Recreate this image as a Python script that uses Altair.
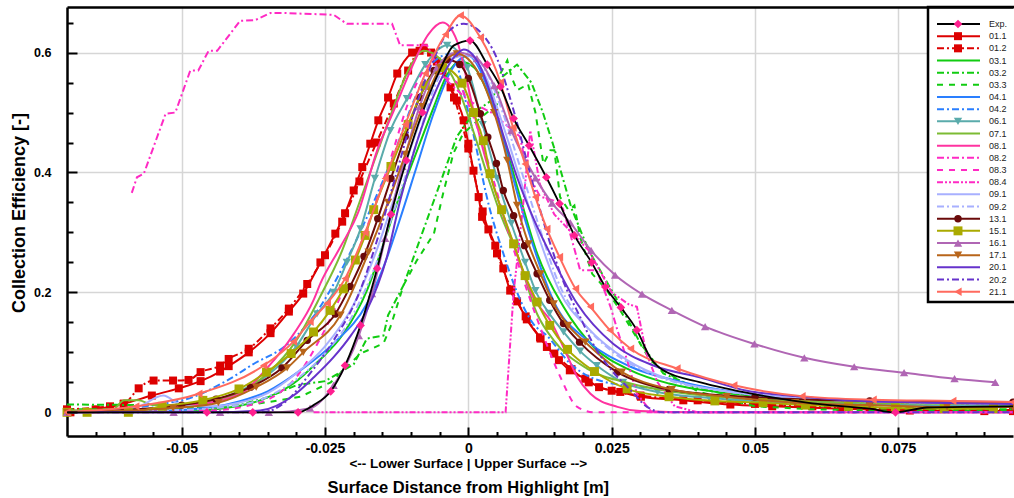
import altair as alt
import pandas as pd

FONT = "Liberation Sans"

# ---------------- series meta ----------------
SERIES = ["Exp.", "01.1", "01.2", "03.1", "03.2", "03.3", "04.1", "04.2", "06.1", "07.1",
          "08.1", "08.2", "08.3", "08.4", "09.1", "09.2", "13.1", "15.1", "16.1", "17.1",
          "20.1", "20.2", "21.1"]
LINE_COLORS = ["#000000", "#dd0000", "#dd0000", "#11cc11", "#11cc11", "#11cc11", "#2a7fff", "#2a7fff",
               "#5aabab", "#7cbb33", "#ff33a0", "#ff2ac4", "#ff2ac4", "#ff2ac4", "#a8b0ff", "#a8b0ff",
               "#6a0a0a", "#aaaa00", "#b066b4", "#b8651a", "#6633cc", "#6633cc", "#ff6a5e"]
SOLID = []
DD = [7, 3, 2, 3]
DASHED = [6, 6]
DDD = [6, 2, 2, 2, 2, 2]
LINE_DASHES = [SOLID, SOLID, DD, SOLID, DD, DASHED, SOLID, DD, SOLID, SOLID, SOLID, DD, DASHED, DDD,
               SOLID, DD, SOLID, SOLID, SOLID, SOLID, SOLID, DD, SOLID]
MARKERS = ["diamond", "square", "square", "", "", "", "", "", "triangle-down", "", "", "", "", "",
           "", "", "circle", "square", "triangle-up", "triangle-down", "", "", "triangle-left"]
MARKER_COLORS = ["#ff1f8f"] + LINE_COLORS[1:]
MARKER_SIZES = [75, 64, 64, 0, 0, 0, 0, 0, 70, 0, 0, 0, 0, 0, 0, 0, 55, 80, 70, 70, 0, 0, 70]
LINEAR_SERIES = ["03.2", "03.3", "08.2", "08.4"]

XMAJ = [-0.05, -0.025, 0, 0.025, 0.05, 0.075]
XMIN = [-0.065, -0.06, -0.055, -0.045, -0.04, -0.035, -0.03, -0.02, -0.015, -0.01, -0.005,
        0.005, 0.01, 0.015, 0.02, 0.03, 0.035, 0.04, 0.045, 0.055, 0.06, 0.065, 0.07, 0.08, 0.085, 0.09]
YMAJ = [0, 0.2, 0.4, 0.6]
YMIN = [0.05, 0.1, 0.15, 0.25, 0.3, 0.35, 0.45, 0.5, 0.55, 0.65]

X_TITLE = "Surface Distance from Highlight [m]"
X_SUBTITLE = "<-- Lower Surface | Upper Surface -->"
Y_TITLE = "Collection Efficiency [-]"

# ---------------- data ----------------
EXP_X = [-0.07, -0.0535, -0.0456, -0.0376, -0.0297, -0.027, -0.024, -0.0215, -0.0188, -0.0159, -0.0135,
         -0.0108, -0.008, -0.005, -0.0025, 0.0003, 0.0033, 0.0056, 0.0079, 0.0106, 0.0136, 0.0159, 0.0185,
         0.0215, 0.0239, 0.0266, 0.0294, 0.0317, 0.034, 0.0405, 0.05, 0.06, 0.07, 0.0745, 0.08, 0.095]
EXP_Y = [0.0, 0.0, 0.0, 0.0, 0.0, 0.012, 0.035, 0.078, 0.145, 0.24, 0.33, 0.42, 0.5, 0.57, 0.612, 0.62,
         0.58, 0.543, 0.49, 0.445, 0.392, 0.348, 0.295, 0.25, 0.209, 0.175, 0.137, 0.092, 0.07, 0.05, 0.03,
         0.015, 0.006, 0.0, 0.008, 0.01]
EXP_MX = [-0.0456, -0.0376, -0.0297, -0.024, -0.0215, -0.0188, -0.0159, -0.0135, -0.0108, -0.008, 0.0003,
          0.0033, 0.0056, 0.0079, 0.0106, 0.0136, 0.0159, 0.0185, 0.0215, 0.0239, 0.0266, 0.0294, 0.0745]
EXP_MY = [0.0, 0.0, 0.0, 0.035, 0.078, 0.145, 0.24, 0.33, 0.42, 0.5, 0.62, 0.58, 0.543, 0.49, 0.445, 0.392,
          0.348, 0.295, 0.25, 0.209, 0.175, 0.137, 0.0]

S011_X = [-0.0694, -0.065, -0.0601, -0.0552, -0.0505, -0.0467, -0.0433, -0.0418, -0.0383, -0.0345, -0.0313,
          -0.0288, -0.0258, -0.0232, -0.0215, -0.02, -0.0185, -0.0171, -0.0157, -0.014, -0.0124, -0.0098,
          -0.0078, -0.0055, -0.0031, -0.002, -0.0008, 0.0, 0.0009, 0.0018, 0.0024, 0.0035, 0.0047, 0.0061,
          0.0073, 0.0085, 0.0102, 0.0126, 0.0137, 0.0158, 0.0177, 0.0204, 0.0228, 0.0265, 0.0301, 0.0375,
          0.0457, 0.053, 0.0649, 0.077, 0.09, 0.095]
S011_Y = [0.0, 0.005, 0.0145, 0.028, 0.04, 0.052, 0.068, 0.077, 0.1, 0.132, 0.168, 0.198, 0.25, 0.298, 0.332,
          0.37, 0.409, 0.448, 0.487, 0.525, 0.565, 0.6, 0.608, 0.585, 0.542, 0.52, 0.487, 0.448, 0.403, 0.359,
          0.326, 0.305, 0.278, 0.24, 0.203, 0.185, 0.155, 0.123, 0.109, 0.087, 0.07, 0.056, 0.042, 0.034,
          0.026, 0.02, 0.013, 0.01, 0.006, 0.003, 0.002, 0.002]

S012_X = [-0.07, -0.0625, -0.0601, -0.0575, -0.0549, -0.0515, -0.0488, -0.0467, -0.0433, -0.0418, -0.0383,
          -0.0345, -0.0313, -0.0281, -0.025, -0.022, -0.019, -0.016, -0.013, -0.0105, -0.0085, -0.0065,
          -0.0045, -0.0025, 0.0, 0.0025, 0.005, 0.0075, 0.01, 0.0125, 0.015, 0.018, 0.021, 0.025, 0.03,
          0.04, 0.05, 0.06, 0.07, 0.08, 0.095]
S012_Y = [0.005, 0.01, 0.014, 0.04, 0.053, 0.053, 0.054, 0.067, 0.078, 0.089, 0.106, 0.14, 0.173, 0.214,
          0.262, 0.318, 0.385, 0.45, 0.515, 0.57, 0.603, 0.6, 0.57, 0.525, 0.44, 0.335, 0.265, 0.205, 0.16,
          0.125, 0.098, 0.072, 0.05, 0.036, 0.028, 0.02, 0.014, 0.01, 0.007, 0.005, 0.004]

S031_X = [-0.07, -0.05, -0.0433, -0.0363, -0.0305, -0.0264, -0.0218, -0.0177, -0.0148, -0.0124, -0.0104,
          -0.0084, -0.006, -0.0037, -0.0015, 0.001, 0.0035, 0.006, 0.009, 0.012, 0.0166, 0.0219, 0.0283,
          0.035, 0.045, 0.06, 0.075, 0.095]
S031_Y = [0.0, 0.001, 0.006, 0.02, 0.048, 0.083, 0.131, 0.203, 0.281, 0.35, 0.4, 0.45, 0.51, 0.563, 0.585,
          0.575, 0.53, 0.46, 0.36, 0.265, 0.176, 0.109, 0.07, 0.048, 0.032, 0.022, 0.018, 0.015]

S032_X = [-0.07, -0.054, -0.045, -0.04, -0.035, -0.03, -0.025, -0.02, -0.0177, -0.0148, -0.014, -0.0113,
          -0.008, -0.005, -0.002, 0.001, 0.004, 0.006, 0.0085, 0.011, 0.013, 0.015, 0.018, 0.021, 0.024,
          0.027, 0.03, 0.034, 0.04, 0.05, 0.06, 0.07, 0.08, 0.095]
S032_Y = [0.013, 0.012, 0.008, 0.012, 0.025, 0.045, 0.052, 0.08, 0.123, 0.128, 0.162, 0.212, 0.3, 0.38,
          0.46, 0.5, 0.52, 0.56, 0.58, 0.55, 0.5, 0.44, 0.34, 0.27, 0.22, 0.17, 0.115, 0.065, 0.04, 0.02,
          0.012, 0.008, 0.006, 0.005]

S033_X = [-0.07, -0.06, -0.05, -0.04, -0.035, -0.0293, -0.024, -0.0188, -0.0148, -0.0136, -0.0113, -0.009,
          -0.006, -0.0044, -0.0026, -0.0009, 0.002, 0.005, 0.0056, 0.0068, 0.0075, 0.0085, 0.0096, 0.0104,
          0.0117, 0.0131, 0.0143, 0.015, 0.016, 0.0175, 0.0185, 0.0195, 0.0216, 0.0242, 0.0265, 0.0317,
          0.034, 0.04, 0.05, 0.06, 0.07, 0.08, 0.095]
S033_Y = [0.005, 0.005, 0.006, 0.01, 0.017, 0.026, 0.05, 0.098, 0.115, 0.142, 0.212, 0.253, 0.298, 0.365,
          0.432, 0.465, 0.49, 0.514, 0.565, 0.587, 0.56, 0.537, 0.543, 0.548, 0.5, 0.414, 0.437, 0.437,
          0.359, 0.337, 0.345, 0.292, 0.231, 0.203, 0.17, 0.087, 0.07, 0.035, 0.01, 0.005, 0.003, 0.003, 0.003]

S041_X = [-0.07, -0.05, -0.04, -0.035, -0.0293, -0.0235, -0.0177, -0.0148, -0.012, -0.009, -0.006, -0.003,
          0.0, 0.003, 0.006, 0.009, 0.012, 0.0149, 0.0207, 0.0283, 0.037, 0.0486, 0.06, 0.075, 0.095]
S041_Y = [0.0, 0.004, 0.018, 0.035, 0.07, 0.115, 0.181, 0.242, 0.32, 0.41, 0.5, 0.57, 0.595, 0.55, 0.455,
          0.35, 0.258, 0.185, 0.12, 0.076, 0.051, 0.031, 0.022, 0.017, 0.014]

S042_X = [-0.07, -0.05, -0.0421, -0.0374, -0.032, -0.027, -0.022, -0.017, -0.013, -0.0095, -0.006, -0.003,
          0.0, 0.0038, 0.0061, 0.0085, 0.0113, 0.0137, 0.0178, 0.0236, 0.0323, 0.04, 0.05, 0.06, 0.075, 0.095]
S042_Y = [0.0, 0.02, 0.053, 0.081, 0.11, 0.16, 0.24, 0.34, 0.43, 0.52, 0.585, 0.598, 0.5, 0.337, 0.265,
          0.2, 0.148, 0.128, 0.081, 0.051, 0.04, 0.03, 0.022, 0.016, 0.012, 0.01]

S061_X = [-0.07, -0.0585, -0.05, -0.045, -0.04, -0.035, -0.03, -0.0264, -0.0235, -0.0212, -0.0188, -0.0163,
          -0.0136, -0.0107, -0.0075, -0.0037, -0.0002, 0.0025, 0.005, 0.0075, 0.0099, 0.0117, 0.0141,
          0.0166, 0.0195, 0.0224, 0.027, 0.033, 0.042, 0.055, 0.07, 0.085, 0.095]
S061_Y = [0.0, 0.002, 0.01, 0.018, 0.035, 0.062, 0.11, 0.164, 0.2, 0.25, 0.306, 0.39, 0.47, 0.523, 0.58,
          0.612, 0.575, 0.48, 0.39, 0.315, 0.25, 0.203, 0.165, 0.134, 0.102, 0.078, 0.05, 0.034, 0.024,
          0.017, 0.013, 0.011, 0.01]

S071_X = [-0.07, -0.062, -0.06, -0.0575, -0.055, -0.05, -0.045, -0.04, -0.035, -0.03, -0.026, -0.022,
          -0.019, -0.016, -0.013, -0.0105, -0.0078, -0.005, -0.002, 0.001, 0.0035, 0.0056, 0.0085, 0.012,
          0.0149, 0.0207, 0.0283, 0.035, 0.045, 0.06, 0.075, 0.095]
S071_Y = [0.003, 0.005, 0.02, 0.02, 0.012, 0.012, 0.018, 0.033, 0.065, 0.12, 0.19, 0.27, 0.35, 0.43, 0.51,
          0.57, 0.603, 0.59, 0.545, 0.465, 0.39, 0.331, 0.264, 0.164, 0.12, 0.073, 0.048, 0.035, 0.025,
          0.018, 0.015, 0.013]

S081_X = [-0.07, -0.05, -0.04, -0.035, -0.0305, -0.027, -0.0258, -0.0223, -0.0192, -0.0159, -0.013,
          -0.0101, -0.007, -0.0045, -0.002, 0.0009, 0.0026, 0.005, 0.0079, 0.0113, 0.0145, 0.017, 0.019,
          0.0213, 0.026, 0.03, 0.04, 0.095]
S081_Y = [0.0, 0.01, 0.03, 0.075, 0.13, 0.187, 0.215, 0.276, 0.334, 0.437, 0.503, 0.57, 0.63, 0.65, 0.62,
          0.503, 0.437, 0.36, 0.28, 0.192, 0.15, 0.1, 0.059, 0.031, 0.009, 0.002, 0.0, 0.0]

S082_X = [-0.0587, -0.0578, -0.0566, -0.0528, -0.0511, -0.0485, -0.0471, -0.0453, -0.0438, -0.0398,
          -0.0372, -0.0345, -0.0323, -0.0235, -0.0212, -0.0159, -0.0133, -0.0119, -0.0072, -0.0045, 0.0,
          0.004, 0.009, 0.0103, 0.0125, 0.0149, 0.0165, 0.0184, 0.0195, 0.0224, 0.0248, 0.026, 0.0277,
          0.0294, 0.032, 0.04, 0.095]
S082_Y = [0.366, 0.392, 0.398, 0.498, 0.5, 0.57, 0.57, 0.603, 0.603, 0.653, 0.654, 0.666, 0.666, 0.663,
          0.648, 0.648, 0.648, 0.612, 0.612, 0.56, 0.52, 0.5, 0.46, 0.4, 0.36, 0.353, 0.34, 0.276, 0.237,
          0.237, 0.176, 0.137, 0.087, 0.031, 0.0, 0.0, 0.0]

S083_X = [-0.07, -0.045, -0.038, -0.034, -0.0305, -0.026, -0.022, -0.018, -0.014, -0.0096, -0.0065,
          -0.0044, -0.002, 0.001, 0.004, 0.007, 0.01, 0.013, 0.016, 0.019, 0.022, 0.03, 0.095]
S083_Y = [0.0, 0.003, 0.012, 0.026, 0.053, 0.12, 0.2, 0.3, 0.41, 0.537, 0.58, 0.56, 0.55, 0.49, 0.4, 0.3,
          0.21, 0.13, 0.06, 0.009, 0.0, 0.0, 0.0]

S084_X = [-0.027, 0.0065, 0.0079, 0.0095, 0.0108, 0.0125, 0.015, 0.018, 0.021, 0.025, 0.028, 0.0294,
          0.031, 0.033, 0.036, 0.04, 0.095]
S084_Y = [0.0, 0.0, 0.2, 0.34, 0.47, 0.38, 0.33, 0.3, 0.27, 0.2, 0.18, 0.176, 0.1, 0.05, 0.01, 0.0, 0.0]

S091_X = [-0.07, -0.058, -0.0532, -0.05, -0.045, -0.04, -0.035, -0.03, -0.025, -0.02, -0.016, -0.0125,
          -0.009, -0.006, -0.003, 0.0, 0.003, 0.006, 0.009, 0.012, 0.016, 0.0207, 0.0277, 0.035, 0.045,
          0.06, 0.075, 0.095]
S091_Y = [0.0, 0.008, 0.028, 0.012, 0.01, 0.016, 0.032, 0.065, 0.11, 0.18, 0.27, 0.37, 0.47, 0.55, 0.59,
          0.595, 0.56, 0.48, 0.39, 0.3, 0.2, 0.142, 0.087, 0.055, 0.035, 0.022, 0.017, 0.014]

S092_X = [-0.07, -0.05, -0.04, -0.035, -0.03, -0.025, -0.02, -0.016, -0.0125, -0.009, -0.006, -0.003, 0.0,
          0.003, 0.006, 0.009, 0.012, 0.016, 0.02, 0.026, 0.033, 0.045, 0.06, 0.075, 0.095]
S092_Y = [0.0, 0.004, 0.012, 0.026, 0.055, 0.098, 0.165, 0.25, 0.35, 0.45, 0.54, 0.59, 0.6, 0.57, 0.5,
          0.41, 0.32, 0.21, 0.15, 0.095, 0.06, 0.035, 0.022, 0.017, 0.014]

S131_X = [-0.07, -0.06, -0.05, -0.044, -0.038, -0.0325, -0.0281, -0.0232, -0.0206, -0.0182, -0.0158,
          -0.0135, -0.011, -0.0085, -0.006, -0.0037, -0.0015, 0.0, 0.0021, 0.0034, 0.0049, 0.0061, 0.0079,
          0.0098, 0.012, 0.0142, 0.0166, 0.0194, 0.026, 0.035, 0.05, 0.07, 0.095]
S131_Y = [0.0, 0.004, 0.012, 0.022, 0.042, 0.074, 0.12, 0.164, 0.21, 0.26, 0.323, 0.39, 0.46, 0.525, 0.57,
          0.588, 0.58, 0.557, 0.498, 0.459, 0.415, 0.37, 0.328, 0.278, 0.231, 0.187, 0.148, 0.117, 0.067,
          0.038, 0.025, 0.019, 0.017]

S151_X = [-0.07, -0.0665, -0.0593, -0.0534, -0.0463, -0.04, -0.0352, -0.0309, -0.027, -0.0241, -0.0218,
          -0.0197, -0.018, -0.0165, -0.0135, -0.0105, -0.0075, -0.0045, -0.0011, 0.0009, 0.0026, 0.0038,
          0.0058, 0.0079, 0.0099, 0.012, 0.0142, 0.0173, 0.022, 0.0277, 0.035, 0.043, 0.0514, 0.0588,
          0.0663, 0.0745, 0.083, 0.0916]
S151_Y = [0.0, 0.0, 0.0, 0.01, 0.02, 0.039, 0.067, 0.098, 0.134, 0.17, 0.206, 0.254, 0.295, 0.338, 0.41,
          0.48, 0.545, 0.575, 0.549, 0.5, 0.453, 0.398, 0.338, 0.281, 0.228, 0.184, 0.145, 0.105, 0.068,
          0.039, 0.026, 0.019, 0.016, 0.012, 0.01, 0.007, 0.006, 0.006]

S161_X = [-0.07, -0.0514, -0.0433, -0.0348, -0.0276, -0.0235, -0.0191, -0.0168, -0.0145, -0.0115, -0.0085,
          -0.0055, -0.002, 0.0015, 0.0045, 0.0075, 0.0117, 0.0146, 0.0178, 0.0214, 0.0256, 0.0303, 0.0355,
          0.0413, 0.0499, 0.0586, 0.0673, 0.076, 0.0848, 0.0919]
S161_Y = [0.0, 0.0, 0.0, 0.0, 0.007, 0.045, 0.128, 0.198, 0.29, 0.41, 0.51, 0.575, 0.6, 0.59, 0.545, 0.47,
          0.391, 0.349, 0.316, 0.27, 0.229, 0.197, 0.17, 0.143, 0.114, 0.091, 0.076, 0.066, 0.056, 0.05]

S171_X = [-0.07, -0.0515, -0.0436, -0.037, -0.0316, -0.0288, -0.0223, -0.0174, -0.014, -0.011, -0.008,
          -0.0049, -0.002, 0.0021, 0.0045, 0.0068, 0.0085, 0.0105, 0.0126, 0.0149, 0.0174, 0.0204, 0.0268,
          0.0355, 0.0451, 0.057, 0.07, 0.0835, 0.095]
S171_Y = [0.0, 0.007, 0.016, 0.042, 0.074, 0.1, 0.162, 0.267, 0.35, 0.43, 0.51, 0.575, 0.598, 0.56, 0.5,
          0.42, 0.345, 0.281, 0.231, 0.181, 0.145, 0.117, 0.067, 0.038, 0.026, 0.016, 0.012, 0.009, 0.009]

S201_X = [-0.07, -0.045, -0.0363, -0.0305, -0.027, -0.0235, -0.0205, -0.0177, -0.0142, -0.0119, -0.009,
          -0.0055, -0.0025, -0.0008, 0.0021, 0.0041, 0.0062, 0.0085, 0.0115, 0.0143, 0.019, 0.0253, 0.0323,
          0.0405, 0.0486, 0.057, 0.066, 0.08, 0.095]
S201_Y = [0.0, 0.0, 0.003, 0.028, 0.058, 0.092, 0.128, 0.17, 0.259, 0.353, 0.45, 0.54, 0.592, 0.605, 0.576,
          0.525, 0.459, 0.392, 0.32, 0.264, 0.181, 0.114, 0.078, 0.058, 0.036, 0.027, 0.02, 0.016, 0.014]

S202_X = [-0.07, -0.036, -0.0316, -0.028, -0.0235, -0.019, -0.0155, -0.0125, -0.0095, -0.006, -0.0035,
          -0.0008, 0.002, 0.005, 0.008, 0.011, 0.014, 0.0165, 0.0195, 0.022, 0.025, 0.0283, 0.0312, 0.034,
          0.05, 0.07, 0.095]
S202_Y = [0.0, 0.0, 0.02, 0.06, 0.12, 0.2, 0.3, 0.4, 0.5, 0.59, 0.635, 0.648, 0.635, 0.59, 0.5, 0.39, 0.29,
          0.22, 0.159, 0.11, 0.07, 0.037, 0.009, 0.0, 0.0, 0.0, 0.0]

S211_X = [-0.07, -0.058, -0.047, -0.0357, -0.0305, -0.0276, -0.0246, -0.0215, -0.018, -0.0145, -0.011,
          -0.0075, -0.004, -0.0014, 0.0021, 0.0056, 0.0078, 0.0099, 0.0117, 0.0137, 0.0159, 0.0187, 0.0213,
          0.0247, 0.0283, 0.0364, 0.0463, 0.0582, 0.0706, 0.0845, 0.095]
S211_Y = [0.0, 0.01, 0.031, 0.078, 0.118, 0.151, 0.182, 0.223, 0.3, 0.39, 0.48, 0.565, 0.63, 0.662, 0.625,
          0.55, 0.475, 0.414, 0.359, 0.306, 0.259, 0.206, 0.176, 0.137, 0.106, 0.073, 0.045, 0.027, 0.021,
          0.019, 0.017]

SERIES_XY = {
    "Exp.": (EXP_X, EXP_Y), "01.1": (S011_X, S011_Y), "01.2": (S012_X, S012_Y),
    "03.1": (S031_X, S031_Y), "03.2": (S032_X, S032_Y), "03.3": (S033_X, S033_Y),
    "04.1": (S041_X, S041_Y), "04.2": (S042_X, S042_Y), "06.1": (S061_X, S061_Y),
    "07.1": (S071_X, S071_Y), "08.1": (S081_X, S081_Y), "08.2": (S082_X, S082_Y),
    "08.3": (S083_X, S083_Y), "08.4": (S084_X, S084_Y), "09.1": (S091_X, S091_Y),
    "09.2": (S092_X, S092_Y), "13.1": (S131_X, S131_Y), "15.1": (S151_X, S151_Y),
    "16.1": (S161_X, S161_Y), "17.1": (S171_X, S171_Y), "20.1": (S201_X, S201_Y),
    "20.2": (S202_X, S202_Y), "21.1": (S211_X, S211_Y),
}

# ---------------- build ----------------
xs = alt.Scale(domain=[-0.07, 0.095], nice=False, zero=False)
ys = alt.Scale(domain=[-0.0395, 0.676], nice=False, zero=False)


def frame(name, xv, yv):
    if len(xv) != len(yv):
        raise ValueError(f"length mismatch in {name}: {len(xv)} vs {len(yv)}")
    return pd.DataFrame({"x": xv, "y": yv})


def xy():
    return dict(x=alt.X("x:Q", scale=xs, axis=None), y=alt.Y("y:Q", scale=ys, axis=None))


dummy = pd.DataFrame({"x": [0.0], "y": [0.0]})

axis_main = alt.Chart(dummy).mark_point(opacity=0).encode(
    x=alt.X("x:Q", scale=xs, title=None, axis=alt.Axis(
        values=XMAJ, labelExpr="'' + datum.value", grid=True, gridColor="#d6d6d6", gridWidth=1.5,
        ticks=False, tickSize=0, domain=True, domainColor="black", domainWidth=2.5,
        labelFont=FONT, labelFontSize=14, labelFontWeight="bold", labelColor="black",
        labelPadding=5, labelFlush=False, labelOverlap=False)),
    y=alt.Y("y:Q", scale=ys, title=None, axis=alt.Axis(
        values=YMAJ, labelExpr="'' + datum.value", grid=True, gridColor="#d6d6d6", gridWidth=1.5,
        ticks=False, tickSize=0, domain=True, domainColor="black", domainWidth=2.5,
        labelFont=FONT, labelFontSize=12.5, labelFontWeight="bold", labelColor="black",
        labelPadding=16, labelFlush=False, labelOverlap=False)),
)


def tick_layer(xvals, yvals, xlen, ylen):
    return alt.Chart(dummy).mark_point(opacity=0).encode(
        x=alt.X("x:Q", scale=xs, title=None, axis=alt.Axis(
            orient="bottom", offset=-xlen, values=xvals, tickSize=xlen, tickWidth=2, tickColor="black",
            labels=False, domain=False, grid=False, zindex=1)),
        y=alt.Y("y:Q", scale=ys, title=None, axis=alt.Axis(
            orient="left", offset=-ylen, values=yvals, tickSize=ylen, tickWidth=2, tickColor="black",
            labels=False, domain=False, grid=False, zindex=1)),
    )


top_border = alt.Chart(dummy).mark_point(opacity=0).encode(
    x=alt.X("x:Q", scale=xs, title=None, axis=alt.Axis(
        orient="top", domain=True, domainColor="black", domainWidth=2.5, ticks=False, labels=False,
        grid=False, zindex=1)),
    y=alt.Y("y:Q", scale=ys, axis=None),
)

data_layers = []
draw_order = SERIES[1:] + [SERIES[0]]
for name in draw_order:
    i = SERIES.index(name)
    xv, yv = SERIES_XY[name]
    d = frame(name, xv, yv)
    kw = dict(color=LINE_COLORS[i], strokeWidth=1.8 if name == "Exp." else 2,
              interpolate="linear" if name in LINEAR_SERIES else "monotone")
    if LINE_DASHES[i]:
        kw["strokeDash"] = LINE_DASHES[i]
    data_layers.append(alt.Chart(d).mark_line(**kw).encode(**xy()))
    if MARKERS[i]:
        md = frame(name, EXP_MX, EXP_MY) if name == "Exp." else d
        data_layers.append(alt.Chart(md).mark_point(
            shape=MARKERS[i], filled=True, size=MARKER_SIZES[i], color=MARKER_COLORS[i], opacity=1
        ).encode(**xy()))

sub_text = alt.Chart(pd.DataFrame({"x": [0.0], "t": [X_SUBTITLE]})).mark_text(
    font=FONT, fontSize=13.5, fontWeight="bold", color="black", baseline="middle"
).encode(x=alt.X("x:Q", scale=xs, axis=None), y=alt.value(457), text="t:N")
title_text = alt.Chart(pd.DataFrame({"x": [0.0], "t": [X_TITLE]})).mark_text(
    font=FONT, fontSize=16.5, fontWeight="bold", color="black", baseline="middle"
).encode(x=alt.X("x:Q", scale=xs, axis=None), y=alt.value(481), text="t:N")
ytitle_text = alt.Chart(pd.DataFrame({"t": [Y_TITLE]})).mark_text(
    font=FONT, fontSize=18, fontWeight="bold", color="black", angle=270, baseline="middle"
).encode(x=alt.value(-47), y=alt.value(206), text="t:N")

main = alt.layer(
    axis_main, *data_layers, sub_text, title_text, ytitle_text,
    tick_layer(XMAJ, YMAJ, 9, 10), tick_layer(XMIN, YMIN, 4.5, 6), top_border,
).resolve_axis(x="independent", y="independent")

# ---------------- legend ----------------
leg_y = alt.Scale(domain=[0, len(SERIES) - 1], range=[17, 284.7])
legend_layers = [
    alt.Chart(pd.DataFrame({"a": [0]})).mark_rect(fill="white", stroke="black", strokeWidth=2.5).encode(
        x=alt.value(861), x2=alt.value(990), y=alt.value(0), y2=alt.value(295))
]
for i, name in enumerate(SERIES):
    row = pd.DataFrame({"row": [i]})
    kw = dict(color=LINE_COLORS[i], strokeWidth=2)
    if LINE_DASHES[i]:
        kw["strokeDash"] = LINE_DASHES[i]
    legend_layers.append(alt.Chart(row).mark_rule(**kw).encode(
        x=alt.value(870), x2=alt.value(913), y=alt.Y("row:Q", scale=leg_y, axis=None)))
    if MARKERS[i]:
        legend_layers.append(alt.Chart(row).mark_point(
            shape=MARKERS[i], filled=True, size=MARKER_SIZES[i], color=MARKER_COLORS[i], opacity=1
        ).encode(x=alt.value(891), y=alt.Y("row:Q", scale=leg_y, axis=None)))
legend_layers.append(
    alt.Chart(pd.DataFrame({"row": list(range(len(SERIES))), "label": SERIES})).mark_text(
        align="left", baseline="middle", font=FONT, fontSize=9, color="#222222"
    ).encode(x=alt.value(922), y=alt.Y("row:Q", scale=leg_y, axis=None), text="label:N")
)
legend = alt.layer(*legend_layers)

chart = alt.layer(main, legend).resolve_scale(y="independent").properties(
    width=946, height=429,
    padding={"left": 67, "top": 7, "right": 1, "bottom": 62},
    autosize=alt.AutoSizeParams(type="none"),
).configure_view(stroke="transparent")

chart.save("out.html", embed_options={"renderer": "svg", "actions": False})
